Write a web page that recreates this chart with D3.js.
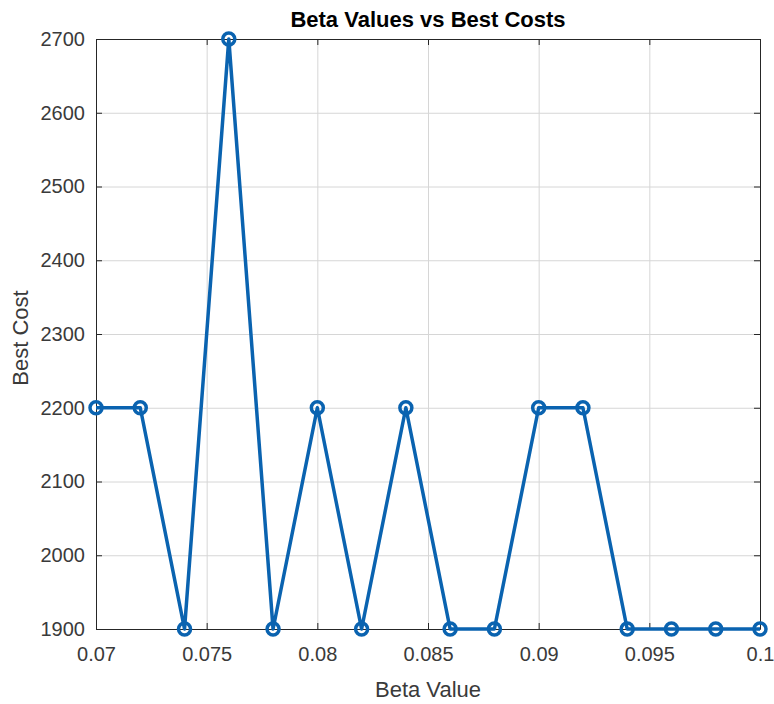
<!DOCTYPE html>
<html>
<head>
<meta charset="utf-8">
<script src="https://cdn.jsdelivr.net/npm/d3@7"></script>
<style>
  body { margin: 0; background: #fff; }
  svg { font-family: "Liberation Sans", Arial, sans-serif; }
</style>
</head>
<body>
<div id="chart"></div>
<script>
// data
const betaValues = [0.07, 0.072, 0.074, 0.076, 0.078, 0.08, 0.082, 0.084,
                    0.086, 0.088, 0.09, 0.092, 0.094, 0.096, 0.098, 0.1];
const bestCosts = [2200, 2200, 1900, 2700, 1900, 2200, 1900, 2200,
                   1900, 1900, 2200, 2200, 1900, 1900, 1900, 1900];
const xTicks = [0.07, 0.075, 0.08, 0.085, 0.09, 0.095, 0.1];
const xTickLabels = ["0.07", "0.075", "0.08", "0.085", "0.09", "0.095", "0.1"];
const yTicks = [1900, 2000, 2100, 2200, 2300, 2400, 2500, 2600, 2700];

// constants
const width = 774, height = 704;
const margin = {top: 39, right: 14, bottom: 75, left: 96};
const lineColor = "#0a63b0";
const textColor = "#3a3a3a";

const svg = d3.select("#chart")
    .append("svg")
    .attr("width", width)
    .attr("height", height);

const x = d3.scaleLinear()
    .domain([0.07, 0.1])
    .range([margin.left, width - margin.right]);

const y = d3.scaleLinear()
    .domain([1900, 2700])
    .range([height - margin.bottom, margin.top]);

// grid
svg.append("g")
    .attr("transform", `translate(0,${height - margin.bottom})`)
    .call(d3.axisBottom(x).tickValues(xTicks).tickSize(-(height - margin.top - margin.bottom)).tickFormat(""))
    .call(g => g.select(".domain").remove())
    .call(g => g.selectAll("line").attr("stroke", "#d6d6d6"));

svg.append("g")
    .attr("transform", `translate(${margin.left},0)`)
    .call(d3.axisLeft(y).tickValues(yTicks).tickSize(-(width - margin.left - margin.right)).tickFormat(""))
    .call(g => g.select(".domain").remove())
    .call(g => g.selectAll("line").attr("stroke", "#d6d6d6"));

// axes with inward ticks (box on all four sides)
const axisColor = "#262626";
function styleAxis(g) {
    g.select(".domain").attr("stroke", axisColor).attr("stroke-width", 1);
    g.selectAll(".tick line").attr("stroke", axisColor);
    g.selectAll("text").attr("fill", textColor).style("font-size", "20px");
}

svg.append("g")
    .attr("transform", `translate(0,${height - margin.bottom})`)
    .call(d3.axisBottom(x).tickValues(xTicks).tickSizeInner(-6).tickSizeOuter(0)
        .tickPadding(18).tickFormat((d, i) => xTickLabels[i]))
    .call(styleAxis);

svg.append("g")
    .attr("transform", `translate(0,${margin.top})`)
    .call(d3.axisTop(x).tickValues(xTicks).tickSizeInner(-6).tickSizeOuter(0).tickFormat(""))
    .call(styleAxis);

svg.append("g")
    .attr("transform", `translate(${margin.left},0)`)
    .call(d3.axisLeft(y).tickValues(yTicks).tickSizeInner(-6).tickSizeOuter(0)
        .tickPadding(11).tickFormat(d3.format("d")))
    .call(styleAxis);

svg.append("g")
    .attr("transform", `translate(${width - margin.right},0)`)
    .call(d3.axisRight(y).tickValues(yTicks).tickSizeInner(-6).tickSizeOuter(0).tickFormat(""))
    .call(styleAxis);

// line + markers
const points = betaValues.map((b, i) => [b, bestCosts[i]]);

svg.append("path")
    .datum(points)
    .attr("fill", "none")
    .attr("stroke", lineColor)
    .attr("stroke-width", 3.5)
    .attr("stroke-linejoin", "round")
    .attr("d", d3.line().x(d => x(d[0])).y(d => y(d[1])));

svg.append("g")
    .selectAll("circle")
    .data(points)
    .enter().append("circle")
    .attr("cx", d => x(d[0]))
    .attr("cy", d => y(d[1]))
    .attr("r", 6)
    .attr("fill", "none")
    .attr("stroke", lineColor)
    .attr("stroke-width", 3.5);

// labels
svg.append("text")
    .attr("x", 428)
    .attr("y", 27)
    .attr("text-anchor", "middle")
    .style("font-size", "22px")
    .style("font-weight", "bold")
    .attr("fill", "#000")
    .text("Beta Values vs Best Costs");

svg.append("text")
    .attr("x", 428)
    .attr("y", 697)
    .attr("text-anchor", "middle")
    .style("font-size", "22px")
    .attr("fill", textColor)
    .text("Beta Value");

svg.append("text")
    .attr("transform", `translate(28,338) rotate(-90)`)
    .attr("text-anchor", "middle")
    .style("font-size", "22px")
    .attr("fill", textColor)
    .text("Best Cost");
</script>
</body>
</html>
